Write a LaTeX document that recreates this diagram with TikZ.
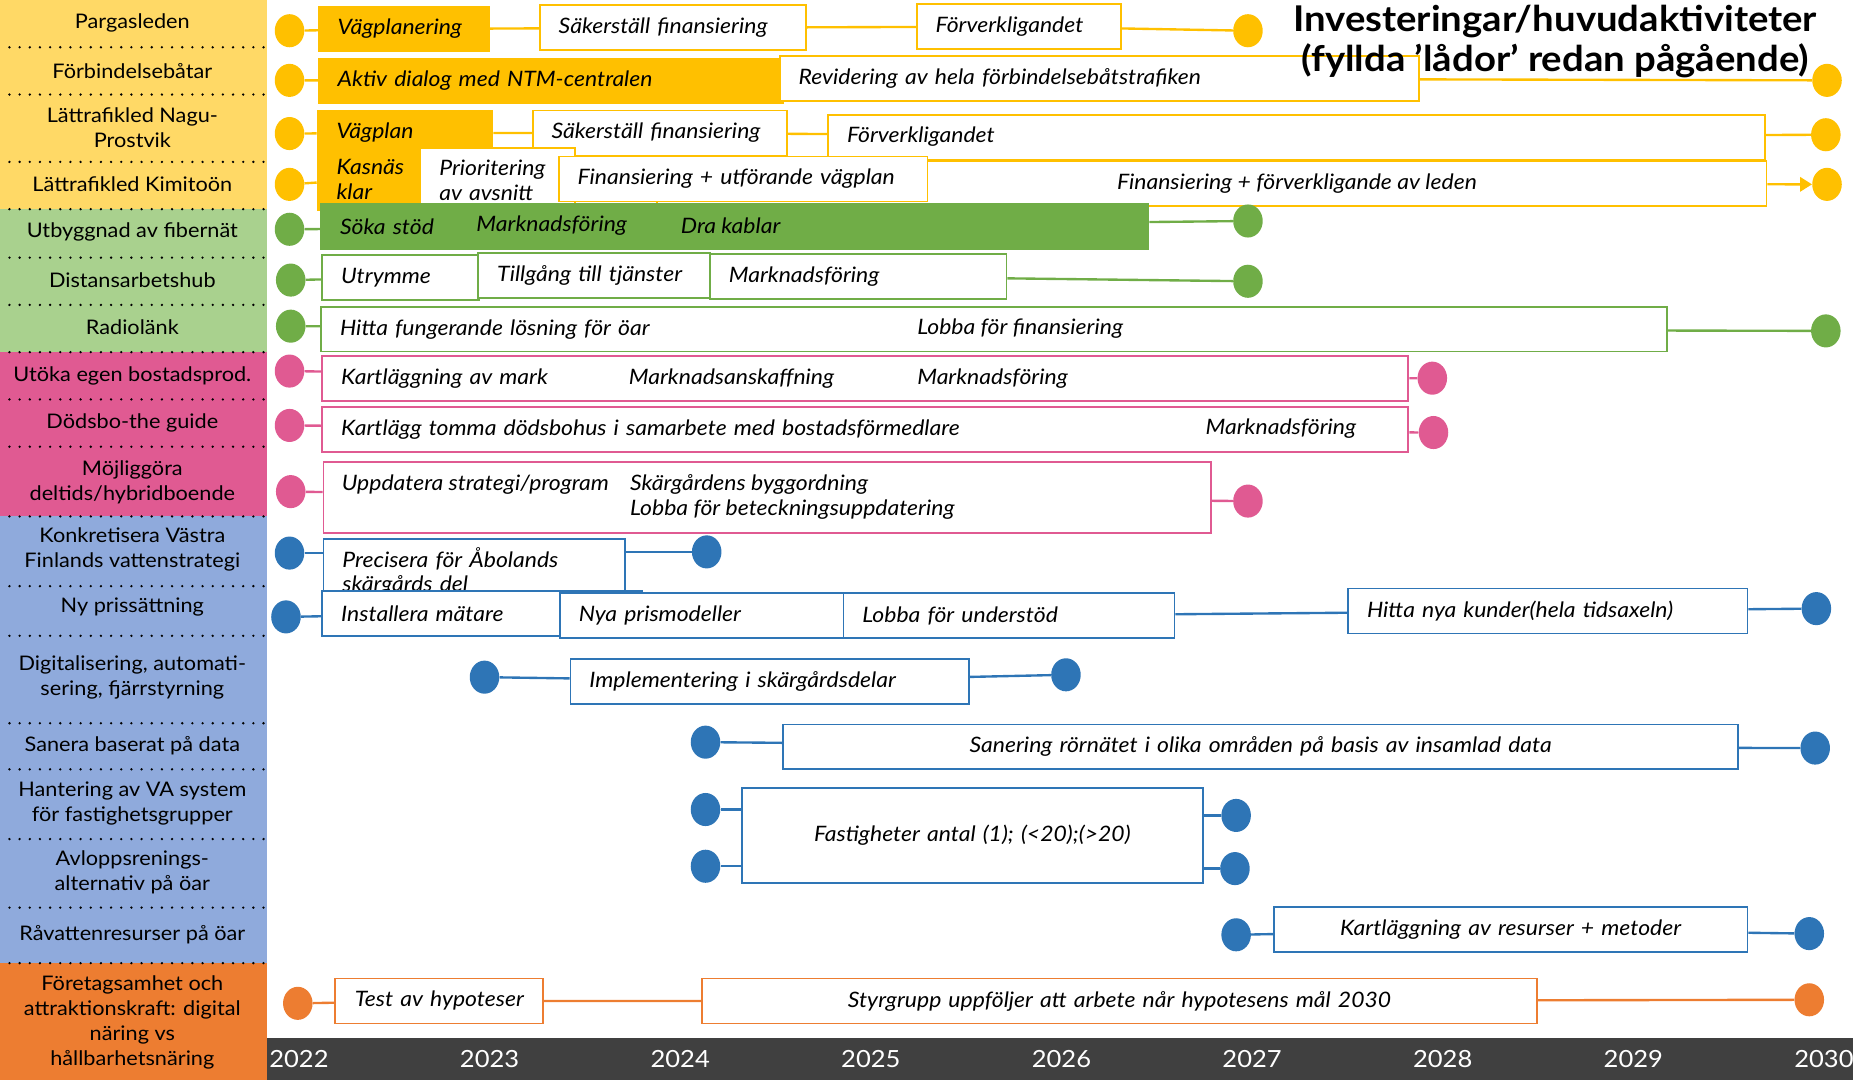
\documentclass[tikz,border=0pt]{standalone}
\usepackage{fontspec}
\setmainfont{Lato}[FakeStretch=1.08]
\usepackage{tikz}
\usetikzlibrary{arrows.meta, shapes.geometric, positioning}
\usepackage{xcolor}
\definecolor{ylw}{HTML}{FFC000}
\definecolor{ylwBg}{HTML}{FFD966}
\definecolor{grn}{HTML}{70AD47}
\definecolor{grnBg}{HTML}{A9D18E}
\definecolor{pnk}{HTML}{E05A92}
\definecolor{blu}{HTML}{2E75B6}
\definecolor{bluBg}{HTML}{8FAADC}
\definecolor{org}{HTML}{ED7D31}
\definecolor{barGray}{HTML}{404040}

\begin{document}
\begin{tikzpicture}[x=1pt, y=-1pt,
  every node/.style={font=\fontsize{17}{21}\selectfont},
  lbl/.style={align=center},
  mstone/.style={ellipse, minimum width=25pt, minimum height=28pt, inner sep=0pt, fill=#1},
  task/.style={draw=#1, line width=1.5pt, fill=white, anchor=west, minimum height=38pt,
    inner xsep=16pt, align=left, font=\fontsize{18}{21}\selectfont\itshape},
  done/.style={task=#1, fill=#1},
  txt/.style={anchor=west, inner sep=0pt, align=left, font=\fontsize{18}{21}\selectfont\itshape},
  link/.style={draw=#1, line width=2pt},
  rowsep/.style={line width=2.2pt, dash pattern=on 0pt off 8.6pt, line cap=round},
  yr/.style={text=white, font=\fontsize{20}{24}\selectfont}
]
\useasboundingbox (0,0) rectangle (1568,914);

\fill[ylwBg] (0,0) rectangle (226,177);
\fill[grnBg] (0,177) rectangle (226,298);
\fill[pnk] (0,298) rectangle (226,437);
\fill[bluBg] (0,437) rectangle (226,815);
\fill[org] (0,815) rectangle (226,914);
\fill[barGray] (226,878) rectangle (1568,914);
\foreach \y in {40,80,137,177,218,258,298,338,378,437,496,538,612,651,710,768,815}
  \draw[rowsep] (8,\y) -- (224,\y);

\node[lbl] (l1) at (112,19) {Pargasleden};
\node[lbl] (l2) at (112,60) {Förbindelsebåtar};
\node[lbl] (l3) at (112,108) {Lättrafikled Nagu-\\Prostvik};
\node[lbl] (l4) at (112,156) {Lättrafikled Kimitoön};
\node[lbl] (l5) at (112,196) {Utbyggnad av fibernät};
\node[lbl] (l6) at (112,237) {Distansarbetshub};
\node[lbl] (l7) at (112,277) {Radiolänk};
\node[lbl] (l8) at (112,318) {Utöka egen bostadsprod.};
\node[lbl] (l9) at (112,358) {Dödsbo-the guide};
\node[lbl] (l10) at (112,408) {Möjliggöra\\deltids/hybridboende};
\node[lbl] (l11) at (112,465) {Konkretisera Västra\\Finlands vattenstrategi};
\node[lbl] (l12) at (112,514) {Ny prissättning};
\node[lbl] (l13) at (112,573) {Digitalisering, automati-\\sering, fjärrstyrning};
\node[lbl] (l14) at (112,631) {Sanera baserat på data};
\node[lbl] (l15) at (112,680) {Hantering av VA system\\för fastighetsgrupper};
\node[lbl] (l16) at (112,738) {Avloppsrenings-\\alternativ på öar};
\node[lbl] (l17) at (112,791) {Råvattenresurser på öar};
\node[lbl] (l18) at (112,865) {Företagsamhet och\\attraktionskraft: digital\\näring vs\\hållbarhetsnäring};

\foreach \yy [count=\i from 0] in {2022,...,2030}
  \node[yr] (y\yy) at ({253+161.3*\i},896) {\yy};

\node[mstone=ylw] (pa0) at (245,26) {};
\node[done=ylw, text width=112pt] (pa1) at (269,24.5) {Vägplanering};
\node[task=ylw, text width=193pt] (pa2) at (456,23.5) {Säkerställ finansiering};
\node[task=ylw, text width=141pt] (pa3) at (775,22.5) {Förverkligandet};
\node[mstone=ylw] (pa4) at (1056,26) {};
\draw[link=ylw] (pa0) -- (pa1) (pa1) -- (pa2) (pa2) -- (pa3) (pa3) -- (pa4);

\node[mstone=ylw] (fb0) at (245,68) {};
\node[done=ylw, text width=361pt] (fb1) at (269,68.5) {Aktiv dialog med NTM-centralen};
\node[task=ylw, text width=509pt] (fb2) at (659,66.5) {Revidering av hela förbindelsebåtstrafiken};
\node[mstone=ylw] (fb3) at (1546,68) {};
\draw[link=ylw] (fb0) -- (fb1) (fb2) -- (fb3);

\node[mstone=ylw] (np0) at (245,113) {};
\node[done=ylw, text width=116pt] (np1) at (268,112.5) {Vägplan};
\node[task=ylw, text width=183pt] (np2) at (450,112.5) {Säkerställ finansiering};
\node[task=ylw, text width=761pt] (np3) at (700,116) {Förverkligandet};
\node[mstone=ylw] (np4) at (1545,114) {};
\draw[link=ylw] (np0) -- (np1) (np1) -- (np2) (np2) -- (np3) (np3) -- (np4);

\node[mstone=ylw] (km0) at (245,156) {};
\node[done=ylw, text width=55pt, minimum height=53pt] (km1) at (268,151.5) {Kasnäs\\klar};
\node[task=ylw, text width=99pt, minimum height=55pt] (km2) at (355,152.5) {Prioritering\\av avsnitt};
\node[task=ylw, minimum width=939pt] (km4) at (555,155.5) {};
\node[txt] (km4t) at (945,155) {Finansiering + förverkligande av leden};
\node[task=ylw, text width=280pt] (km3) at (472,151.5) {Finansiering + utförande vägplan};
\node[mstone=ylw] (km5) at (1546,156) {};
\draw[link=ylw] (km0) -- (km1);
\draw[link=ylw, -{Triangle[length=10pt, width=12pt]}] (km4) -- (km5);

\node[mstone=grn] (fi0) at (245,194) {};
\node[done=grn, text width=668pt] (fi1) at (271,191.5) {Söka stöd};
\node[txt] (fi2) at (403,191) {Marknadsföring};
\node[txt] (fi3) at (576,191) {Dra kablar};
\node[mstone=grn] (fi4) at (1056,187) {};
\draw[link=grn] (fi0) -- (fi1) (fi1) -- (fi4);

\node[mstone=grn] (di0) at (246,237) {};
\node[task=grn, text width=101pt] (di1) at (272,235) {Utrymme};
\node[task=grn, text width=164pt] (di2) at (404,233) {Tillgång till tjänster};
\node[task=grn, text width=219pt] (di3) at (600,234) {Marknadsföring};
\node[mstone=grn] (di4) at (1056,238) {};
\draw[link=grn] (di0) -- (di1) (di3) -- (di4);

\node[mstone=grn] (ra0) at (246,276) {};
\node[task=grn, text width=1107pt] (ra1) at (271,278.5) {Hitta fungerande lösning för öar};
\node[txt] (ra1b) at (776,278) {Lobba för finansiering};
\node[mstone=grn] (ra2) at (1545,280) {};
\draw[link=grn] (ra0) -- (ra1) (ra1) -- (ra2);

\node[mstone=pnk] (ut0) at (245,314) {};
\node[task=pnk, text width=887pt] (ut1) at (272,320.5) {Kartläggning av mark};
\node[txt] (ut1b) at (532,320) {Marknadsanskaffning};
\node[txt] (ut1c) at (776,320) {Marknadsföring};
\node[mstone=pnk] (ut2) at (1212,320) {};
\draw[link=pnk] (ut0) -- (ut1) (ut1) -- (ut2);

\node[mstone=pnk] (dg0) at (245,360) {};
\node[task=pnk, text width=887pt] (dg1) at (272,363.5) {Kartlägg tomma dödsbohus i samarbete med bostadsförmedlare};
\node[txt] (dg1b) at (1020,363) {Marknadsföring};
\node[mstone=pnk] (dg2) at (1213,366) {};
\draw[link=pnk] (dg0) -- (dg1) (dg1) -- (dg2);

\node[mstone=pnk] (mh0) at (246,416) {};
\node[task=pnk, minimum width=751pt, minimum height=60pt] (mh1) at (273,421) {};
\node[txt] (mh1a) at (289,410) {Uppdatera strategi/program};
\node[txt] (mh1b) at (533,420.5) {Skärgårdens byggordning\\Lobba för beteckningsuppdatering};
\node[mstone=pnk] (mh2) at (1056,424) {};
\draw[link=pnk] (mh0) -- (mh1) (mh1) -- (mh2);

\node[mstone=blu] (kv0) at (245,468) {};
\node[task=blu, text width=223pt, minimum height=55pt] (kv1) at (273,483.5) {Precisera för Åbolands\\skärgårds del};
\node[mstone=blu] (kv2) at (598,467) {};
\draw[link=blu] (kv0) -- (kv0 -| kv1.west) (kv2 -| kv1.east) -- (kv2);

\node[mstone=blu] (ny0) at (242,522) {};
\node[task=blu, text width=239pt] (ny1) at (272,519) {Installera mätare};
\node[task=blu, text width=208pt] (ny2) at (473,521) {Nya prismodeller};
\node[task=blu, text width=248pt] (ny3) at (713,521) {Lobba för understöd};
\node[task=blu, text width=306pt] (ny4) at (1140,517) {Hitta nya kunder(hela tidsaxeln)};
\node[mstone=blu] (ny5) at (1537,515) {};
\draw[link=blu] (ny0) -- (ny1) (ny3) -- (ny4) (ny4) -- (ny5);

\node[mstone=blu] (dz0) at (410,573) {};
\node[task=blu, text width=305pt] (dz1) at (482,576.5) {Implementering i skärgårdsdelar};
\node[mstone=blu] (dz2) at (902,571) {};
\draw[link=blu] (dz0) -- (dz1) (dz1) -- (dz2);

\node[mstone=blu] (sa0) at (597,628) {};
\node[task=blu, text width=776pt, align=center] (sa1) at (662,632) {Sanering rörnätet i olika områden på basis av insamlad data};
\node[mstone=blu] (sa2) at (1536,633) {};
\draw[link=blu] (sa0) -- (sa1) (sa1) -- (sa2);

\node[mstone=blu] (va0) at (597,685) {};
\node[mstone=blu] (va1) at (597,733) {};
\node[task=blu, text width=358pt, minimum height=80pt, align=center] (va2) at (627,707) {Fastigheter antal (1); (<20);(>20)};
\node[mstone=blu] (va3) at (1046,690) {};
\node[mstone=blu] (va4) at (1045,735) {};
\draw[link=blu] (va0) -- (va0 -| va2.west) (va1) -- (va1 -| va2.west)
  (va3 -| va2.east) -- (va3) (va4 -| va2.east) -- (va4);

\node[mstone=blu] (rv0) at (1046,791) {};
\node[task=blu, text width=369pt, align=center] (rv1) at (1077,786.5) {Kartläggning av resurser + metoder};
\node[mstone=blu] (rv2) at (1531,790) {};
\draw[link=blu] (rv0) -- (rv1) (rv1) -- (rv2);

\node[mstone=org] (fo0) at (252,849) {};
\node[task=org, text width=144pt, align=center] (fo1) at (283,847) {Test av hypoteser};
\node[task=org, text width=675pt, align=center] (fo2) at (593,847) {Styrgrupp uppföljer att arbete når hypotesens mål 2030};
\node[mstone=org] (fo3) at (1531,846) {};
\draw[link=org] (fo0) -- (fo1) (fo1) -- (fo2) (fo2) -- (fo3);

\node[font=\fontsize{30}{34}\selectfont\bfseries, align=center] (title) at (1316,35)
  {Investeringar/huvudaktiviteter\\(fyllda ’lådor’ redan pågående)};
\end{tikzpicture}
\end{document}
